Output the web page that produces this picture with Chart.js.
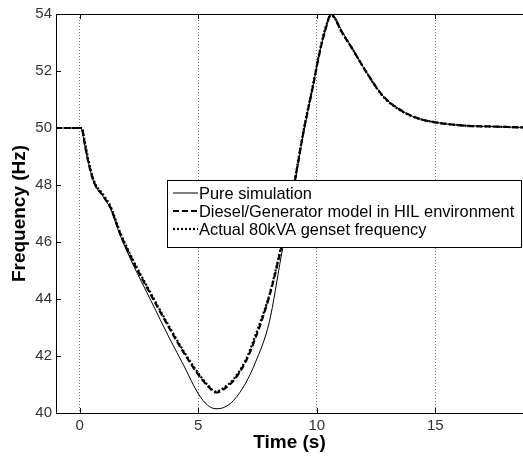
<!DOCTYPE html>
<html>
<head>
<meta charset="utf-8">
<script src="https://cdn.jsdelivr.net/npm/chart.js@4.4.1/dist/chart.umd.min.js"></script>
<style>
  body { margin: 0; background: #fff; }
  #wrap { width: 523px; height: 459px; }
</style>
</head>
<body>
<div id="wrap"><canvas id="freqChart" width="523" height="459"></canvas></div>
<script>
// time axis (s), shared by all three traces
const timeS = [-1, 0, 0.1, 0.2, 0.35, 0.6, 1.0, 1.3, 1.7, 2.2, 3.0, 3.8, 4.4, 5.0, 5.4, 5.75,
  6.1, 6.5, 7.0, 7.4, 8.0, 8.5, 9.0, 9.45, 9.8, 10.15, 10.4, 10.6, 10.8, 11.0, 11.5, 12.1,
  12.8, 13.5, 14.2, 15.0, 16.3, 17.5, 18.7];

// frequency (Hz)
const pureSim = [50, 50, 49.9, 49.45, 48.85, 48.08, 47.58, 47.17, 46.25, 45.3, 43.95, 42.6, 41.65,
  40.68, 40.27, 40.15, 40.2, 40.45, 41.05, 41.75, 43.2, 45.5, 47.7, 49.85, 51.3, 52.75, 53.55,
  54.0, 53.85, 53.5, 52.8, 51.95, 51.12, 50.65, 50.36, 50.2, 50.08, 50.05, 50.02];
const hilModel = [50, 50, 49.95, 49.5, 48.85, 48.1, 47.6, 47.2, 46.3, 45.4, 44.15, 42.95, 42.1,
  41.35, 40.95, 40.72, 40.85, 41.15, 41.8, 42.6, 44.1, 45.8, 47.8, 49.9, 51.3, 52.75, 53.55,
  54.0, 53.8, 53.45, 52.78, 51.95, 51.12, 50.65, 50.36, 50.2, 50.08, 50.05, 50.02];
const gensetFreq = [50, 50, 50.0, 49.6, 48.95, 48.15, 47.65, 47.25, 46.35, 45.45, 44.2, 43.0, 42.15,
  41.4, 40.98, 40.75, 40.9, 41.2, 41.85, 42.7, 44.15, 45.85, 47.85, 49.95, 51.35, 52.8, 53.6,
  53.95, 53.8, 53.45, 52.78, 51.95, 51.1, 50.63, 50.35, 50.2, 50.08, 50.05, 50.02];

const seriesNames = ['Pure simulation', 'Diesel/Generator model in HIL environment', 'Actual 80kVA genset frequency'];
const xTicks = [0, 5, 10, 15];
const yTicks = [40, 42, 44, 46, 48, 50, 52, 54];

const toPoints = vals => vals.map((v, i) => ({ x: timeS[i], y: v }));

// matlab style box, inward ticks and the legend
const matlabBox = {
  id: 'matlabBox',
  afterDraw(chart) {
    const { ctx, chartArea: a, scales } = chart;
    ctx.save();
    ctx.strokeStyle = '#000';
    ctx.lineWidth = 1;
    ctx.beginPath();
    ctx.moveTo(a.left, a.top + 0.5);
    ctx.lineTo(a.right, a.top + 0.5);
    xTicks.forEach(t => {
      const px = Math.round(scales.x.getPixelForValue(t)) + 0.5;
      ctx.moveTo(px, a.bottom); ctx.lineTo(px, a.bottom - 5);
      ctx.moveTo(px, a.top); ctx.lineTo(px, a.top + 5);
    });
    yTicks.forEach(v => {
      const py = Math.round(scales.y.getPixelForValue(v)) + 0.5;
      ctx.moveTo(a.left, py); ctx.lineTo(a.left + 5, py);
    });
    ctx.stroke();

    // legend box
    const lx = 167.5, ly = 180.5, lw = 354, lh = 67;
    ctx.fillStyle = '#fff';
    ctx.fillRect(lx, ly, lw, lh);
    ctx.strokeRect(lx, ly, lw, lh);
    ctx.font = '16.4px "Liberation Sans", Arial, sans-serif';
    ctx.textBaseline = 'middle';
    chart.data.datasets.forEach((ds, i) => {
      const y = 193 + i * 18;
      ctx.beginPath();
      ctx.lineWidth = ds.borderWidth;
      ctx.setLineDash(ds.borderDash || []);
      ctx.moveTo(173, y); ctx.lineTo(198, y);
      ctx.stroke();
      ctx.setLineDash([]);
      ctx.fillStyle = '#000';
      ctx.fillText(ds.label, 199, y + 1);
    });
    ctx.restore();
  }
};

const ctx = document.getElementById('freqChart').getContext('2d');
new Chart(ctx, {
  type: 'line',
  data: {
    datasets: [{
      label: seriesNames[0],
      data: toPoints(pureSim),
      borderColor: '#000',
      borderWidth: 1,
      pointRadius: 0,
      cubicInterpolationMode: 'monotone'
    }, {
      label: seriesNames[1],
      data: toPoints(hilModel),
      borderColor: '#000',
      borderWidth: 2.2,
      borderDash: [6, 3],
      pointRadius: 0,
      cubicInterpolationMode: 'monotone'
    }, {
      label: seriesNames[2],
      data: toPoints(gensetFreq),
      borderColor: '#000',
      borderWidth: 2.2,
      borderDash: [2, 2],
      pointRadius: 0,
      cubicInterpolationMode: 'monotone'
    }]
  },
  options: {
    responsive: false,
    animation: false,
    devicePixelRatio: 1,
    layout: { padding: { top: 14, right: 0, left: 0, bottom: 0 } },
    plugins: { legend: { display: false }, tooltip: { enabled: false } },
    scales: {
      x: {
        type: 'linear',
        min: -1,
        max: 18.7,
        afterBuildTicks: axis => { axis.ticks = xTicks.map(v => ({ value: v })); },
        afterFit: axis => { axis.height = 46; },
        grid: { display: true, drawTicks: false, color: '#777', lineWidth: 1 },
        border: { display: true, color: '#000', width: 1, dash: [1, 2] },
        ticks: { padding: 4, color: '#333', font: { family: '"Liberation Sans", Arial', size: 15 }, maxRotation: 0 },
        title: {
          display: true,
          text: 'Time (s)',
          color: '#000',
          font: { family: '"Liberation Sans", Arial', size: 19, weight: 'bold' },
          padding: { top: 0, bottom: 4.6 }
        }
      },
      y: {
        min: 40,
        max: 54,
        afterBuildTicks: axis => { axis.ticks = yTicks.map(v => ({ value: v })); },
        afterFit: axis => { axis.width = 56; },
        grid: { display: false, drawTicks: false },
        border: { display: true, color: '#000', width: 1 },
        ticks: { padding: 4, color: '#333', font: { family: '"Liberation Sans", Arial', size: 15 } },
        title: {
          display: true,
          text: 'Frequency (Hz)',
          color: '#000',
          font: { family: '"Liberation Sans", Arial', size: 19, weight: 'bold' },
          padding: { top: 8.6, bottom: 0 }
        }
      }
    }
  },
  plugins: [matlabBox]
});
</script>
</body>
</html>
